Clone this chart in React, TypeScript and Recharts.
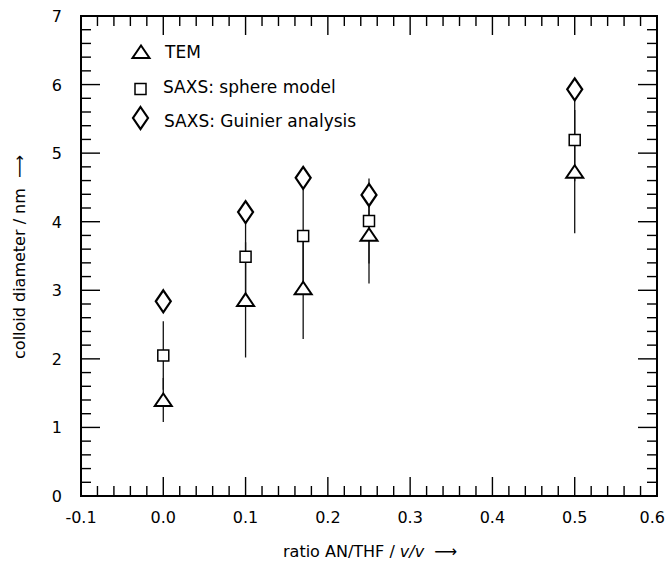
import React from 'react';
import { ScatterChart, Scatter, XAxis, YAxis, ErrorBar, Legend, Label } from 'recharts';

// ---- data ----
const ratios = [0, 0.1, 0.17, 0.25, 0.5];
const temDiameter = [1.4, 2.86, 3.03, 3.81, 4.73];
const temError = [0.32, 0.84, 0.74, 0.71, 0.9];
const sphereDiameter = [2.05, 3.49, 3.79, 4.01, 5.19];
const sphereError = [0.5, 0.55, 0.7, 0.62, 0.6];
const guinierDiameter = [2.84, 4.14, 4.64, 4.39, 5.93];

const seriesNames = ['TEM', 'SAXS: sphere model', 'SAXS: Guinier analysis'];

const xMajorTicks = [-0.1, 0, 0.1, 0.2, 0.3, 0.4, 0.5, 0.6];
const xTickLabels = ['-0.1', '0.0', '0.1', '0.2', '0.3', '0.4', '0.5', '0.6'];
const yMajorTicks = [0, 1, 2, 3, 4, 5, 6, 7];
const yTickLabels = ['0', '1', '2', '3', '4', '5', '6', '7'];
const xMinorStep = 0.02;
const yMinorStep = 0.2;

const xAllTicks = Array.from({ length: 36 }, (_, i) => Math.round((-0.1 + i * xMinorStep) * 1000) / 1000);
const yAllTicks = Array.from({ length: 36 }, (_, i) => Math.round(i * yMinorStep * 1000) / 1000);

const temData = ratios.map((x, i) => ({ x, y: temDiameter[i], err: temError[i] }));
const sphereData = ratios.map((x, i) => ({ x, y: sphereDiameter[i], err: sphereError[i] }));
const guinierData = ratios.map((x, i) => ({ x, y: guinierDiameter[i] }));

const FONT = '"DejaVu Sans", Verdana, sans-serif';

// ---- marker shapes ----
const TrianglePath = (cx: number, cy: number) =>
  `M${cx - 8.5},${cy + 6}L${cx + 8.5},${cy + 6}L${cx},${cy - 6.5}Z`;
const SquarePath = (cx: number, cy: number) =>
  `M${cx - 5.5},${cy - 5.5}L${cx + 5.5},${cy - 5.5}L${cx + 5.5},${cy + 5.5}L${cx - 5.5},${cy + 5.5}Z`;
const DiamondPath = (cx: number, cy: number) =>
  `M${cx},${cy - 11}L${cx + 7.5},${cy}L${cx},${cy + 11}L${cx - 7.5},${cy}Z`;

const Triangle = (p: any) => (
  <path d={TrianglePath(p.cx, p.cy)} fill="#fff" stroke="#000" strokeWidth={2} />
);
const Square = (p: any) => (
  <path d={SquarePath(p.cx, p.cy)} fill="#fff" stroke="#000" strokeWidth={1.5} />
);
const Diamond = (p: any) => (
  <path d={DiamondPath(p.cx, p.cy)} fill="#fff" stroke="#000" strokeWidth={2.2} />
);

const findIdx = (arr: number[], v: number) => arr.findIndex((t) => Math.abs(t - v) < 1e-6);

// ---- tick renderers ----
const BottomTick = (props: any) => {
  const { x, y, payload } = props;
  const idx = findIdx(xMajorTicks, payload.value);
  const len = idx >= 0 ? 19 : 10;
  const isLast = idx === xMajorTicks.length - 1;
  return (
    <g>
      <line x1={x} x2={x} y1={y} y2={y - len} stroke="#000" strokeWidth={1.4} />
      {idx >= 0 && (
        <text
          x={isLast ? x + 8 : x}
          y={y + 27}
          textAnchor={isLast ? 'end' : 'middle'}
          fontFamily={FONT}
          fontSize={16}
          fill="#000"
        >
          {xTickLabels[idx]}
        </text>
      )}
    </g>
  );
};
const TopTick = (props: any) => {
  const { x, y, payload } = props;
  const idx = findIdx(xMajorTicks, payload.value);
  const len = idx >= 0 ? 19 : 10;
  return <line x1={x} x2={x} y1={y} y2={y + len} stroke="#000" strokeWidth={1.4} />;
};
const LeftTick = (props: any) => {
  const { x, y, payload } = props;
  const idx = findIdx(yMajorTicks, payload.value);
  const len = idx >= 0 ? 19 : 10;
  return (
    <g>
      <line x1={x} x2={x + len} y1={y} y2={y} stroke="#000" strokeWidth={1.4} />
      {idx >= 0 && (
        <text x={x - 19} y={y + 6} textAnchor="end" fontFamily={FONT} fontSize={16} fill="#000">
          {yTickLabels[idx]}
        </text>
      )}
    </g>
  );
};
const RightTick = (props: any) => {
  const { x, y, payload } = props;
  const idx = findIdx(yMajorTicks, payload.value);
  const len = idx >= 0 ? 19 : 10;
  return <line x1={x} x2={x - len} y1={y} y2={y} stroke="#000" strokeWidth={1.4} />;
};

// ---- legend ----
const LegendBox = () => (
  <svg width={260} height={110} style={{ display: 'block', overflow: 'visible' }}>
    <path d={TrianglePath(21, 22)} fill="#fff" stroke="#000" strokeWidth={2} />
    <text x={45} y={28} fontFamily={FONT} fontSize={17} fill="#000">{seriesNames[0]}</text>
    <path d={SquarePath(20.5, 59)} fill="#fff" stroke="#000" strokeWidth={1.5} />
    <text x={43} y={63} fontFamily={FONT} fontSize={17} fill="#000">{seriesNames[1]}</text>
    <path d={DiamondPath(20.5, 88)} fill="#fff" stroke="#000" strokeWidth={2.2} />
    <text x={44} y={97} fontFamily={FONT} fontSize={17} fill="#000">{seriesNames[2]}</text>
  </svg>
);

const axisLineStyle = { stroke: '#000', strokeWidth: 2, strokeLinecap: 'square' as const };

export default function App() {
  return (
    <div style={{ position: 'absolute', left: 0, top: 0, background: '#fff' }}>
      <ScatterChart width={666} height={571} margin={{ top: 15, left: 80, right: 8, bottom: 74 }}>
        <XAxis
          xAxisId={0}
          dataKey="x"
          type="number"
          domain={[-0.1, 0.6]}
          ticks={xAllTicks}
          interval={0}
          height={1}
          tickSize={0}
          tickMargin={0}
          tickLine={false}
          axisLine={axisLineStyle}
          tick={BottomTick}
          allowDataOverflow
        >
          <Label
            content={() => (
              <text x={283} y={557} fontFamily={FONT} fontSize={16} fill="#000" style={{ whiteSpace: 'pre' }}>
                <tspan>ratio AN/THF / </tspan>
                <tspan fontStyle="italic">v/v</tspan>
                <tspan>{'  ⟶'}</tspan>
              </text>
            )}
          />
        </XAxis>
        <XAxis
          xAxisId="top"
          orientation="top"
          dataKey="x"
          type="number"
          domain={[-0.1, 0.6]}
          ticks={xAllTicks}
          interval={0}
          height={1}
          tickSize={0}
          tickMargin={0}
          tickLine={false}
          axisLine={axisLineStyle}
          tick={TopTick}
          allowDataOverflow
        />
        <YAxis
          yAxisId={0}
          dataKey="y"
          type="number"
          domain={[0, 7]}
          ticks={yAllTicks}
          interval={0}
          width={1}
          tickSize={0}
          tickMargin={0}
          tickLine={false}
          axisLine={axisLineStyle}
          tick={LeftTick}
          allowDataOverflow
        >
          <Label
            content={() => (
              <text
                x={25}
                y={257}
                textAnchor="middle"
                transform="rotate(-90 25 257)"
                fontFamily={FONT}
                fontSize={16}
                fill="#000"
                style={{ whiteSpace: 'pre' }}
              >
                {'colloid diameter / nm  ⟶'}
              </text>
            )}
          />
        </YAxis>
        <YAxis
          yAxisId="right"
          orientation="right"
          dataKey="y"
          type="number"
          domain={[0, 7]}
          ticks={yAllTicks}
          interval={0}
          width={1}
          tickSize={0}
          tickMargin={0}
          tickLine={false}
          axisLine={axisLineStyle}
          tick={RightTick}
          allowDataOverflow
        />
        <Legend
          layout="vertical"
          align="center"
          verticalAlign="middle"
          wrapperStyle={{ left: 120, top: 30, width: 260, height: 110 }}
          content={() => <LegendBox />}
        />
        <Scatter name={seriesNames[0]} data={temData} dataKey="y" shape={Triangle} isAnimationActive={false}>
          <ErrorBar dataKey="err" direction="y" width={0} stroke="#111" strokeWidth={1.3} />
        </Scatter>
        <Scatter name={seriesNames[1]} data={sphereData} dataKey="y" shape={Square} isAnimationActive={false}>
          <ErrorBar dataKey="err" direction="y" width={0} stroke="#111" strokeWidth={1.3} />
        </Scatter>
        <Scatter name={seriesNames[2]} data={guinierData} dataKey="y" shape={Diamond} isAnimationActive={false} />
      </ScatterChart>
    </div>
  );
}
